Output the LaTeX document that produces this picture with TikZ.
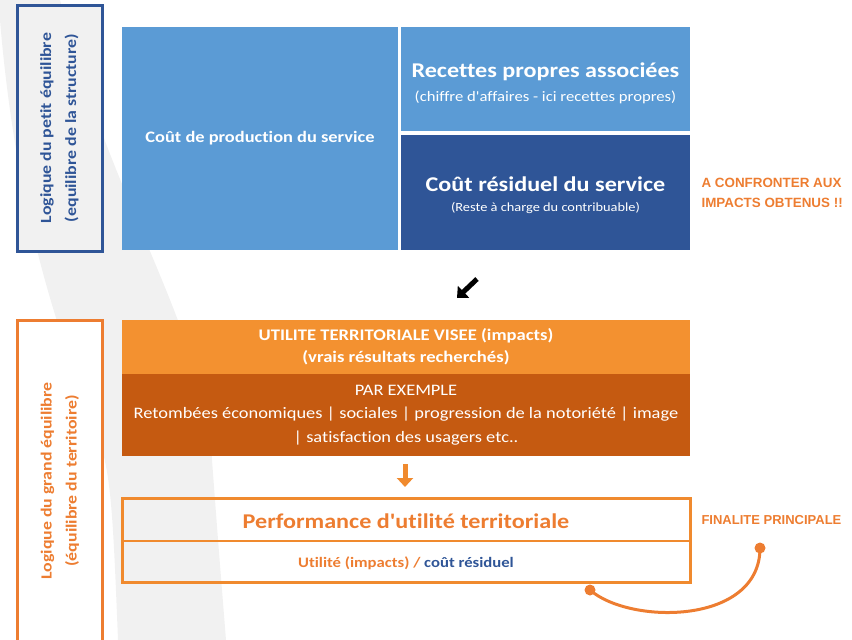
\documentclass[tikz,border=0pt]{standalone}
\usepackage{fontspec}
\setmainfont{Carlito}[FakeStretch=1.15, Ligatures={NoCommon,TeXOff}]
\newfontfamily\arialfont{Liberation Sans}
\usetikzlibrary{arrows.meta}
\definecolor{bandgray}{HTML}{F1F1F1}
\definecolor{lblue}{HTML}{5B9BD5}
\definecolor{dblue}{HTML}{2F5597}
\definecolor{orgA}{HTML}{F39130}
\definecolor{orgB}{HTML}{C55A11}
\definecolor{orgT}{HTML}{ED7D31}
\definecolor{orgL}{HTML}{F08A2E}
\tikzset{
  block/.style={draw=none, inner sep=0pt, outer sep=0pt, anchor=north west, text=white, align=center},
  sidebox/.style={inner sep=0pt, outer sep=0pt, anchor=north west, line width=3pt},
  sidetext/.style={rotate=90, align=center, font=\bfseries\fontsize{15.5}{25}\selectfont},
  remark/.style={anchor=west, align=left, text=orgT, font=\arialfont\bfseries\fontsize{13.4}{20}\selectfont},
  fatarrow/.style={line width=5pt, -{Triangle[width=16pt,length=9pt]}},
}
\begin{document}
\begin{tikzpicture}[x=1pt,y=-1pt]
\useasboundingbox (0,0) rectangle (852,640);
% background swoosh
\fill[bandgray] (0,0) -- (60,0) .. controls (110,200) and (205,330) .. (212,460)
  .. controls (218,540) .. (226,640) -- (118,640) .. controls (114,540) and (112,490) .. (104,457)
  .. controls (80,380) and (20,260) .. (0,20) -- cycle;

% side label boxes
\node[sidebox, draw=dblue, fill=bandgray, minimum width=85pt, minimum height=246pt] (lbtop) at (17,5) {};
\node[sidetext, text=dblue] (lttop) at (lbtop.center) {Logique du petit équilibre\\(equilibre de la structure)};
\node[sidebox, draw=orgT, fill=white, minimum width=85pt, minimum height=330pt] (lbbot) at (17,320) {};
\node[sidetext, text=orgT] (ltbot) at (60,481) {Logique du grand équilibre\\(équilibre du territoire)};

% top blocks
\node[block, fill=lblue, minimum width=276pt, minimum height=223pt, font=\bfseries\fontsize{16}{19}\selectfont] (prod) at (122,27) {Coût de production du service};
\node[block, fill=lblue, minimum width=289pt, minimum height=104pt] (rec) at (401,27) {};
\node[text=white, font=\bfseries\fontsize{21}{24}\selectfont] (rect) at (545.5,72) {Recettes propres associées};
\node[text=white, font=\fontsize{14.5}{16}\selectfont] (recs) at (545.5,97) {(chiffre d'affaires - ici recettes propres)};
\node[block, fill=dblue, minimum width=289pt, minimum height=115pt] (res) at (401,135) {};
\node[text=white, font=\bfseries\fontsize{21}{24}\selectfont] (rest) at (545.5,184) {Coût résiduel du service};
\node[text=white, font=\fontsize{12.5}{14}\selectfont] (ress) at (545.5,208) {(Reste à charge du contribuable)};

\node[remark] (confr) at (698,193) {A CONFRONTER AUX\\IMPACTS OBTENUS !!};

% black arrow
\coordinate (a1) at (477,279);
\coordinate (a2) at (457,298);
\draw[fatarrow, black] (a1) -- (a2);

% orange blocks
\node[block, fill=orgA, minimum width=568pt, minimum height=54pt, font=\bfseries\fontsize{16.2}{22}\selectfont] (util) at (122,320) {UTILITE TERRITORIALE VISEE (impacts)\\(vrais résultats recherchés)};
\node[block, fill=orgB, minimum width=568pt, minimum height=82pt, font=\fontsize{16}{23.5}\selectfont] (ex) at (122,374) {PAR EXEMPLE\\Retombées économiques | sociales | progression de la notoriété | image\\| satisfaction des usagers etc..};

% orange down arrow
\coordinate (b1) at (405,464);
\coordinate (b2) at (405,487);
\draw[fatarrow, orgL] (b1) -- (b2);

% performance box
\node[sidebox, draw=orgL, minimum width=568pt, minimum height=84pt] (perf) at (122,498) {};
\draw[orgL, line width=1.4pt] (perf.west |- 0,541) -- (perf.east |- 0,541);
\node[text=orgT, font=\bfseries\fontsize{21}{24}\selectfont] (perft) at (406,521) {Performance d'utilité territoriale};
\node[font=\bfseries\fontsize{14.5}{16}\selectfont] (perfs) at (406,563) {\textcolor{orgT}{Utilité (impacts) /} \textcolor{dblue}{coût résiduel}};

\node[remark, font=\arialfont\bfseries\fontsize{13}{20}\selectfont] (fin) at (698,520) {FINALITE PRINCIPALE};

% curved connector
\coordinate (d1) at (590,590);
\coordinate (d2) at (760,548);
\draw[orgT, line width=3pt] (d1) .. controls (630,625) and (760,625) .. (d2);
\fill[orgT] (d1) circle (5.5);
\fill[orgT] (d2) circle (5.5);
\end{tikzpicture}
\end{document}
